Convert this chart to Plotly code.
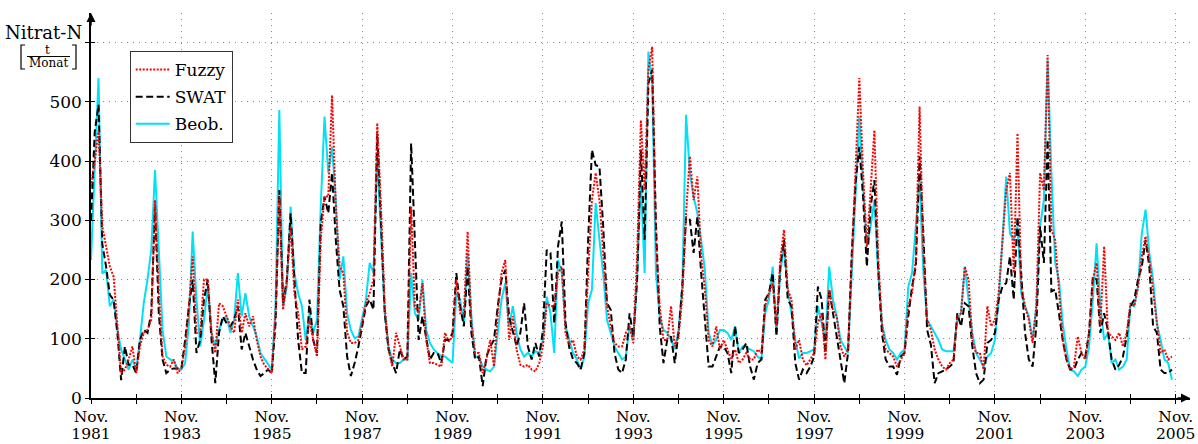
import plotly.graph_objects as go

# months since Nov. 1981 (monthly values)
beob = [
    233, 400, 540, 210, 216, 155, 166, 115, 82, 65, 48, 65,
    48, 98, 160, 200, 250, 385, 256, 115, 70, 65, 62, 50,
    48, 59, 126, 281, 166, 87, 132, 188, 110, 87, 115, 132,
    138, 110, 132, 211, 138, 177, 138, 121, 104, 76, 67, 59,
    48, 155, 486, 155, 188, 323, 211, 177, 155, 98, 143, 110,
    132, 323, 475, 380, 424, 334, 200, 239, 143, 115, 101, 104,
    138, 166, 228, 211, 408, 278, 143, 87, 65, 59, 59, 65,
    65, 211, 143, 132, 200, 115, 93, 82, 76, 70, 70, 65,
    59, 177, 166, 126, 245, 138, 70, 70, 53, 48, 45, 53,
    110, 166, 194, 121, 155, 110, 82, 70, 76, 70, 79, 76,
    98, 171, 143, 76, 233, 211, 121, 98, 76, 65, 48, 70,
    160, 183, 329, 267, 211, 132, 110, 87, 76, 65, 70, 121,
    98, 200, 368, 211, 585, 531, 211, 138, 115, 110, 98, 82,
    115, 188, 478, 380, 340, 312, 267, 216, 110, 90, 98, 115,
    115, 110, 98, 121, 76, 87, 87, 82, 79, 70, 65, 143,
    166, 222, 110, 211, 256, 183, 143, 98, 67, 76, 76, 79,
    82, 155, 126, 98, 222, 166, 138, 98, 87, 76, 211, 334,
    475, 357, 256, 290, 334, 211, 126, 98, 82, 76, 65, 76,
    82, 188, 211, 290, 368, 211, 132, 121, 110, 98, 82, 79,
    79, 79, 132, 143, 222, 166, 110, 76, 65, 53, 70, 76,
    98, 166, 267, 374, 278, 267, 290, 177, 155, 138, 98, 155,
    290, 334, 570, 380, 228, 200, 126, 82, 48, 45, 37, 48,
    53, 87, 166, 261, 155, 98, 110, 59, 65, 48, 53, 65,
    160, 155, 188, 278, 318, 245, 200, 126, 98, 65, 59, 31,
]

swat = [
    300, 450, 495, 260, 222, 174, 166, 110, 30, 87, 56, 56,
    42, 98, 115, 110, 143, 323, 143, 65, 42, 48, 50, 50,
    50, 98, 155, 200, 76, 98, 166, 200, 98, 25, 110, 138,
    126, 121, 132, 155, 82, 110, 87, 65, 48, 37, 42, 48,
    42, 126, 351, 160, 200, 312, 200, 98, 42, 42, 166, 98,
    76, 295, 340, 312, 380, 267, 183, 155, 70, 37, 59, 87,
    121, 155, 166, 149, 447, 290, 143, 82, 59, 42, 82, 65,
    70, 430, 267, 98, 138, 98, 65, 76, 76, 59, 98, 98,
    110, 211, 155, 121, 222, 110, 65, 70, 20, 70, 87, 98,
    155, 200, 216, 138, 110, 87, 110, 160, 87, 65, 93, 70,
    115, 250, 245, 126, 256, 298, 126, 85, 65, 59, 48, 76,
    267, 419, 393, 391, 290, 160, 149, 76, 48, 42, 65, 143,
    104, 200, 419, 267, 531, 554, 295, 121, 59, 98, 104, 59,
    110, 188, 306, 301, 245, 306, 211, 126, 53, 53, 70, 87,
    87, 76, 42, 121, 76, 82, 93, 53, 31, 59, 65, 166,
    177, 211, 104, 222, 267, 166, 155, 59, 31, 48, 42, 53,
    70, 188, 166, 76, 183, 143, 110, 65, 25, 76, 245, 363,
    424, 340, 222, 323, 368, 222, 110, 65, 53, 53, 39, 70,
    76, 138, 188, 222, 408, 278, 115, 90, 25, 42, 45, 48,
    53, 59, 143, 121, 160, 155, 87, 42, 25, 31, 93, 98,
    110, 166, 188, 194, 239, 166, 306, 211, 110, 65, 53, 121,
    290, 228, 436, 180, 183, 143, 98, 65, 48, 48, 65, 76,
    70, 110, 205, 200, 110, 143, 115, 65, 48, 56, 70, 104,
    155, 166, 200, 222, 267, 222, 121, 110, 48, 42, 42, 48,
]

fuzzy = [
    357, 400, 452, 290, 256, 222, 205, 115, 42, 48, 65, 87,
    42, 87, 110, 115, 132, 334, 177, 70, 56, 53, 65, 42,
    50, 87, 155, 239, 110, 110, 200, 200, 110, 76, 160, 155,
    138, 121, 110, 166, 110, 143, 121, 138, 98, 70, 56, 48,
    42, 143, 340, 149, 200, 290, 177, 143, 82, 87, 132, 98,
    70, 267, 340, 340, 511, 323, 222, 211, 110, 93, 93, 98,
    126, 160, 177, 200, 464, 323, 155, 82, 53, 110, 87, 65,
    65, 323, 155, 143, 194, 98, 59, 59, 56, 53, 110, 95,
    104, 200, 143, 143, 281, 126, 76, 76, 42, 65, 98, 53,
    143, 211, 233, 98, 138, 82, 56, 53, 56, 48, 45, 59,
    87, 160, 155, 155, 211, 222, 110, 90, 98, 70, 65, 82,
    211, 334, 380, 334, 245, 155, 121, 93, 87, 87, 110, 121,
    93, 239, 469, 351, 554, 593, 267, 155, 98, 98, 155, 87,
    104, 171, 312, 408, 334, 374, 239, 183, 98, 87, 121, 82,
    98, 82, 65, 82, 59, 65, 76, 65, 65, 82, 76, 155,
    177, 194, 121, 233, 284, 183, 166, 82, 98, 65, 55, 65,
    76, 126, 143, 65, 183, 149, 138, 87, 70, 82, 245, 380,
    540, 380, 256, 351, 452, 239, 126, 82, 76, 70, 53, 65,
    76, 155, 177, 233, 492, 245, 132, 115, 82, 65, 53, 48,
    59, 65, 138, 143, 222, 200, 98, 76, 76, 48, 155, 121,
    132, 177, 267, 351, 380, 211, 447, 188, 155, 132, 93, 155,
    380, 351, 579, 284, 267, 183, 98, 65, 48, 53, 104, 76,
    65, 110, 200, 228, 121, 256, 110, 104, 98, 110, 87, 110,
    160, 155, 188, 239, 273, 233, 177, 132, 76, 82, 65, 70,
]

months = list(range(len(beob)))

x_tickvals = list(range(0, 289, 24))
x_month_text = ["Nov." for _ in x_tickvals]
x_year_text = [str(y) for y in range(1981, 2006, 2)]
y_tickvals = [0, 100, 200, 300, 400, 500, 600]
y_ticktext = ["0", "100", "200", "300", "400", "500", ""]

FONT = "DejaVu Serif"
W, H = 1198, 444
ML, MR, MT, MB = 91, 8, 13, 46
PW, PH = W - ML - MR, H - MT - MB
XMAX = 291.8
YMAX = 650
XFONT = 15.5


def px(X):
    return (X - ML) / PW


def py(Y):
    return 1 - (Y - MT) / PH


fig = go.Figure()
fig.add_trace(go.Scatter(x=months, y=beob, mode="lines", name="Beob.",
                         legendgroup="c", legendrank=3,
                         line=dict(color="#00e1f7", width=2)))
fig.add_trace(go.Scatter(x=months, y=swat, mode="lines", name="SWAT",
                         legendgroup="b", legendrank=2,
                         line=dict(color="black", width=2, dash="7px,3.5px")))
fig.add_trace(go.Scatter(x=months, y=fuzzy, mode="lines", name="Fuzzy",
                         legendgroup="a", legendrank=1,
                         line=dict(color="#ff0000", width=2, dash="2px,1.5px")))
# invisible helper so the overlay axes (crossing ticks, year labels) are drawn
fig.add_trace(go.Scatter(x=months[:1], y=beob[:1], mode="markers",
                         marker=dict(opacity=0), xaxis="x2", yaxis="y2",
                         showlegend=False, hoverinfo="skip"))

grid = dict(showgrid=True, gridcolor="#8a8a8a", gridwidth=1, griddash="1px,5px")


def minor_ticks(side):
    return dict(tickmode="linear", tick0=12, dtick=24, ticks=side, ticklen=4,
                tickwidth=1, tickcolor="black", showgrid=False)


fig.update_layout(
    width=W, height=H,
    margin=dict(l=ML, r=MR, t=MT, b=MB, pad=0),
    plot_bgcolor="white", paper_bgcolor="white",
    font=dict(family=FONT, size=17, color="black"),
    showlegend=True,
    legend=dict(x=px(129.7), y=py(51), xanchor="left", yanchor="top",
                traceorder="grouped", bordercolor="#333333", borderwidth=1,
                bgcolor="white", font=dict(size=17), itemwidth=34,
                tracegroupgap=2),
    # main x axis: "Nov." labels, ticks pointing outward
    xaxis=dict(range=[0, XMAX], tickmode="array", tickvals=x_tickvals,
               ticktext=x_month_text, ticks="outside", ticklen=4, tickwidth=1,
               tickcolor="black", showline=True, linecolor="black", linewidth=1.5,
               zeroline=False, tickfont=dict(size=XFONT), automargin=False,
               minor=minor_ticks("outside"), **grid),
    yaxis=dict(range=[0, YMAX], tickmode="array", tickvals=y_tickvals,
               ticktext=y_ticktext, ticks="outside", ticklen=4, tickwidth=1,
               tickcolor="black", showline=True, linecolor="black", linewidth=1.5,
               zeroline=False, tickfont=dict(size=17), automargin=False, **grid),
    # overlay x axis: year labels, ticks pointing into the plot
    xaxis2=dict(range=[0, XMAX], overlaying="x", anchor="y2", side="bottom",
                tickmode="array", tickvals=x_tickvals, ticktext=x_year_text,
                ticks="inside", ticklen=4, tickwidth=1, tickcolor="black",
                showticklabels=True, tickfont=dict(size=XFONT), ticklabelstandoff=24,
                showgrid=False, zeroline=False, showline=False, automargin=False,
                minor=minor_ticks("inside")),
    yaxis2=dict(range=[0, YMAX], overlaying="y", anchor="x2", side="left",
                tickmode="array", tickvals=y_tickvals, ticks="inside", ticklen=4,
                tickwidth=1, tickcolor="black", showticklabels=False,
                showgrid=False, zeroline=False, showline=False, automargin=False),
)

# axis arrows
fig.add_annotation(x=0, y=YMAX, xref="x", yref="y", ax=0, ay=14, text="",
                   showarrow=True, arrowhead=2, arrowsize=1.2, arrowwidth=1.5,
                   arrowcolor="black")
fig.add_annotation(x=XMAX, y=0, xref="x", yref="y", ax=-14, ay=0, text="",
                   showarrow=True, arrowhead=2, arrowsize=1.2, arrowwidth=1.5,
                   arrowcolor="black")

# y-axis title: Nitrat-N [t / Monat]
fig.add_annotation(x=px(84), y=py(32), xref="paper", yref="paper", text="Nitrat-N",
                   showarrow=False, xanchor="right", yanchor="middle",
                   font=dict(size=18))
fig.add_annotation(x=px(47.5), y=py(50), xref="paper", yref="paper", text="t",
                   showarrow=False, xanchor="center", yanchor="middle",
                   font=dict(size=12))
fig.add_annotation(x=px(48.5), y=py(63.5), xref="paper", yref="paper", text="Monat",
                   showarrow=False, xanchor="center", yanchor="middle",
                   font=dict(size=12))
fig.add_shape(type="line", xref="paper", yref="paper", x0=px(27), x1=px(70),
              y0=py(56.5), y1=py(56.5), line=dict(color="black", width=1))
fig.add_shape(type="path", xref="paper", yref="paper",
              path="M %f %f L %f %f L %f %f L %f %f" % (px(25), py(45), px(21), py(45),
                                                         px(21), py(69), px(25), py(69)),
              line=dict(color="black", width=1.2))
fig.add_shape(type="path", xref="paper", yref="paper",
              path="M %f %f L %f %f L %f %f L %f %f" % (px(72), py(45), px(76), py(45),
                                                         px(76), py(69), px(72), py(69)),
              line=dict(color="black", width=1.2))

# the page's default body margin would shift the figure by 8 px
fig.write_html("out.html", config={"displayModeBar": False},
               post_script="document.body.style.margin='0px';")
